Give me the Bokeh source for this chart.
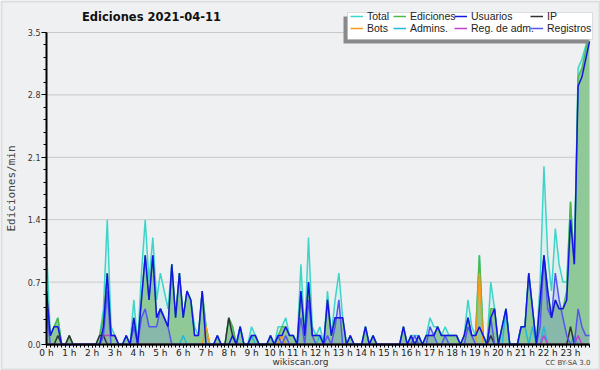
from bokeh.plotting import figure
from bokeh.models import (Range1d, FixedTicker, NumeralTickFormatter, Legend, LegendItem,
                          Label, BoxAnnotation, ColumnDataSource)
from bokeh.embed import file_html
from bokeh.resources import INLINE

# ---- data (10-minute steps, edits per minute) ----
hour_ticks = list(range(24))
hour_labels = {h: f"{h} h" for h in hour_ticks}
y_ticks = [0.0, 0.7, 1.4, 2.1, 2.8, 3.5]

total = [1.1,0.1,0.2,0.3,0,0,0.1,0,0,0,0,0,
         0,0,0.1,0.4,1.4,0.2,0.1,0,0,0.1,0,0.5,
         0,0.8,1.4,0.7,1.2,0.5,0.8,0.6,0.4,0.9,0.3,0.8,
         0.3,0.6,0.5,0.2,0.1,0.6,0.2,0,0,0.1,0,0,
         0.3,0.2,0,0.2,0,0,0.2,0.1,0,0,0,0.1,
         0,0.2,0.2,0.3,0.1,0.1,0,0.9,0.1,1.2,0.2,0.1,
         0.2,0,0.6,0.1,0.5,0.8,0.3,0,0.1,0,0,0,
         0.2,0,0.1,0,0,0,0,0,0,0,0.2,0,
         0.1,0.1,0.1,0,0.1,0.3,0.2,0.2,0.1,0.2,0.1,0.1,
         0.1,0,0.1,0.5,0.2,0.1,1.0,0.1,0,0.7,0.4,0,
         0.2,0.4,0,0,0,0.2,0.2,0.8,0.4,0,0.7,2.0,
         1.0,0.6,1.3,0.9,0.7,0.7,1.6,0.9,3.1,3.2,3.35,3.5]

ediciones = [0.6,0.1,0.2,0.3,0,0,0.1,0,0,0,0,0,
             0,0,0.1,0.3,0.8,0.1,0.1,0,0,0.1,0,0.3,
             0,0.5,1.0,0.5,1.0,0.3,0.4,0.3,0.2,0.9,0.3,0.8,
             0.3,0.6,0.5,0.1,0.1,0.6,0.2,0,0,0.1,0,0,
             0.3,0.2,0,0.2,0,0,0.1,0.1,0,0,0,0.1,
             0,0.1,0.2,0.2,0.1,0.1,0,0.6,0.1,0.7,0.1,0.1,
             0.1,0,0.5,0.1,0.3,0.3,0.3,0,0.1,0,0,0,
             0.2,0,0.1,0,0,0,0,0,0,0,0.2,0,
             0.1,0,0.1,0,0.1,0.1,0.1,0.2,0.1,0.1,0.1,0.1,
             0.1,0,0.1,0.3,0.1,0.1,1.0,0.1,0,0.4,0.4,0,
             0.2,0.4,0,0,0,0.2,0.2,0.8,0.4,0,0.5,1.0,
             0.6,0.3,0.5,0.4,0.4,0.6,1.6,0.9,3.0,3.1,3.3,3.5]

usuarios = [0.6,0.1,0.2,0.2,0,0,0,0,0,0,0,0,
            0,0,0,0.2,0.8,0.1,0.1,0,0,0.1,0,0.3,
            0,0.5,1.0,0.5,1.0,0.3,0.4,0.3,0.2,0.9,0.3,0.8,
            0.3,0.6,0.5,0.1,0.1,0.6,0,0,0,0.1,0,0,
            0,0.1,0,0.2,0,0,0.1,0.1,0,0,0,0.1,
            0,0.1,0.1,0.2,0.1,0.1,0,0.6,0.1,0.7,0.1,0.1,
            0.1,0,0.5,0.1,0.3,0.3,0.3,0,0.1,0,0,0,
            0.2,0,0.1,0,0,0,0,0,0,0,0.2,0,
            0.1,0,0.1,0,0.1,0.1,0.1,0.2,0.1,0.1,0.1,0.1,
            0.1,0,0.1,0.3,0.1,0.1,0.2,0.1,0,0.3,0.4,0,
            0.2,0.4,0,0,0,0.2,0.2,0.8,0.4,0,0.5,1.0,
            0.6,0.3,0.5,0.4,0.4,0.5,1.4,0.9,2.9,3.0,3.2,3.4]

ip = [0,0,0,0.1,0,0,0.1,0,0,0,0,0,
      0,0,0.1,0.1,0,0,0,0,0,0,0,0,
      0,0,0,0,0,0,0,0,0,0,0,0,
      0,0,0,0,0,0,0,0,0,0,0,0,
      0.3,0.1,0,0,0,0,0,0,0,0,0,0,
      0,0,0,0,0,0,0,0,0,0,0,0,
      0,0,0,0,0,0,0,0,0,0,0,0,
      0,0,0,0,0,0,0,0,0,0,0,0,
      0,0,0,0,0,0,0,0,0,0,0,0,
      0,0,0,0,0,0,0,0,0,0.1,0,0,
      0,0,0,0,0,0,0,0,0,0,0,0,
      0,0,0,0,0,0,0.2,0,0,0,0,0]

bots = [0,0,0,0,0,0,0,0,0,0,0,0,
        0,0,0,0,0,0,0,0,0,0,0,0,
        0,0,0,0,0,0,0,0,0,0,0,0,
        0,0,0,0,0,0,0.2,0,0,0,0,0,
        0,0,0,0,0,0,0,0,0,0,0,0,
        0,0,0.1,0,0,0,0,0,0,0,0,0,
        0,0,0,0,0,0,0,0,0,0,0,0,
        0,0,0,0,0,0,0,0,0,0,0,0,
        0,0,0,0,0,0,0,0,0,0,0,0,
        0,0,0,0,0,0,0.8,0,0,0,0,0,
        0,0,0,0,0,0,0,0,0,0,0,0,
        0,0,0,0,0,0,0,0,0,0,0,0]

admins = [0,0,0,0,0,0,0,0,0,0,0,0,
          0,0,0,0,0,0,0,0,0,0,0,0,
          0,0,0,0,0,0,0,0,0,0,0,0,
          0.1,0,0,0,0,0,0,0,0,0,0,0,
          0,0,0,0.2,0,0,0.1,0,0,0,0,0,
          0,0,0,0,0,0,0,0,0,0,0,0,
          0.1,0,0,0,0,0,0,0,0,0,0,0,
          0,0,0,0,0,0,0,0,0,0,0,0,
          0,0,0,0,0,0,0,0,0,0,0,0,
          0,0,0,0,0,0,0,0,0,0,0,0,
          0,0.4,0,0,0,0.2,0.2,0,0.2,0,0,0.2,
          0,0,0,0,0,0,0,0.1,0,0,0,0]

reg_adm = [0,0,0,0,0,0,0,0,0,0,0,0,
           0,0,0,0.1,0.1,0.1,0.1,0,0,0,0,0,
           0,0,0,0,0,0,0,0,0,0,0,0,
           0,0,0,0,0,0,0,0,0,0,0,0,
           0,0,0,0,0,0,0,0,0,0,0,0,
           0,0,0,0,0,0,0,0,0,0,0,0,
           0,0,0,0,0,0,0,0,0,0,0,0,
           0,0,0,0,0,0,0,0,0,0,0,0,
           0,0,0,0,0,0,0,0,0,0,0,0,
           0,0,0,0,0,0,0,0,0,0,0,0,
           0,0,0,0,0,0,0,0,0,0,0,0.1,
           0,0,0,0,0,0,0,0,0.1,0,0,0]

registros = [0.4,0,0,0,0,0,0,0,0,0,0,0,
             0,0,0,0.1,0.6,0,0,0,0,0,0,0.2,
             0,0.3,0.4,0.2,0.2,0.2,0.4,0.3,0.2,0,0,0,
             0,0,0,0,0,0,0,0,0,0,0,0,
             0,0,0,0,0,0,0,0,0,0,0,0,
             0,0.1,0,0.1,0,0,0,0.3,0,0.5,0.1,0,
             0,0,0.1,0,0.2,0.5,0,0,0,0,0,0,
             0,0,0,0,0,0,0,0,0,0,0,0,
             0,0.1,0,0,0,0.2,0.1,0,0,0.1,0,0,
             0,0,0,0.2,0.1,0,0,0,0,0.3,0,0,
             0,0,0,0,0,0,0,0,0,0,0.2,1.0,
             0.4,0.3,0.8,0.5,0.3,0.1,0,0,0.4,0.2,0.1,0.1]

hours = [i / 6 for i in range(len(total))]

src = ColumnDataSource(dict(x=hours, total=total, ediciones=ediciones, usuarios=usuarios,
                            ip=ip, bots=bots, admins=admins, reg_adm=reg_adm,
                            registros=registros, zero=[0] * len(total)))

FONT = "DejaVu Sans"
LFONT = "Liberation Sans"
W, H = 600, 370
X0, X1 = 46, 589          # screen x of hour 0 and of the last sample
Y0, Y1 = 344, 32          # screen y of 0.0 and 3.5
PXH = (X1 - X0) / hours[-1]
PXV = (Y0 - Y1) / 3.5

p = figure(width=W, height=H, output_backend="svg", toolbar_location=None,
           x_range=Range1d(-X0 / PXH, hours[-1] + (W - X1) / PXH),
           y_range=Range1d(-(H - Y0) / PXV, 3.5 + Y1 / PXV),
           min_border_left=0, min_border_right=0, min_border_top=0, min_border_bottom=0)
p.background_fill_color = "#eff0f1"
p.border_fill_color = "#eff0f1"
p.outline_line_color = None
p.xgrid.visible = False
p.ygrid.visible = False


def top_y(page_y):
    return H - page_y


# outer frame of the picture
p.add_layout(BoxAnnotation(left=1, right=W - 1, bottom=1, top=H - 1,
                           left_units="screen", right_units="screen",
                           bottom_units="screen", top_units="screen",
                           fill_alpha=0, line_color="#b4b4b4", line_width=2, level="underlay"))

# horizontal grid lines, only across the plot area
grid = p.segment(x0=[0] * 5, x1=[hours[-1]] * 5, y0=y_ticks[1:], y1=y_ticks[1:],
                 line_color="#c8c8c8", line_width=1)
grid.level = "underlay"

# fills
p.varea(x="x", y1="zero", y2="total", source=src, fill_color="#c8eee6", fill_alpha=0.45)
p.varea(x="x", y1="zero", y2="ediciones", source=src, fill_color="#8ec997", fill_alpha=1.0)
p.varea(x="x", y1="zero", y2="registros", source=src, fill_color="#7070ff", fill_alpha=0.18)

# lines
r_total = p.line("x", "total", source=src, line_color="#3dd5c9", line_width=1.5)
r_edic = p.line("x", "ediciones", source=src, line_color="#4cb84c", line_width=1.5)
r_adm = p.line("x", "admins", source=src, line_color="#22b8e0", line_width=1.5)
r_bots = p.line("x", "bots", source=src, line_color="#f59a1a", line_width=1.5)
r_radm = p.line("x", "reg_adm", source=src, line_color="#c040d0", line_width=1.5)
r_ip = p.line("x", "ip", source=src, line_color="#333333", line_width=1.5)
r_reg = p.line("x", "registros", source=src, line_color="#5555f0", line_width=1.5)
r_usu = p.line("x", "usuarios", source=src, line_color="#1414e6", line_width=1.5)

# axes (drawn inside the frame at x=0 / y=0)
xa = p.xaxis[0]
xa.fixed_location = 0
xa.bounds = (0, hours[-1])
xa.ticker = FixedTicker(ticks=hour_ticks, minor_ticks=hours)
xa.major_label_overrides = hour_labels
xa.major_tick_out = 3
xa.major_tick_in = 0
xa.minor_tick_out = 3
xa.minor_tick_in = 0
xa.axis_line_width = 2
xa.major_label_text_font = FONT
xa.major_label_text_font_size = "9px"
xa.major_label_text_color = "#222"
xa.major_label_standoff = 0

ya = p.yaxis[0]
ya.fixed_location = 0
ya.bounds = (0, 3.5)
ya.ticker = FixedTicker(ticks=y_ticks, minor_ticks=[i * 0.14 for i in range(26)])
ya.formatter = NumeralTickFormatter(format="0.0")
ya.major_tick_out = 5
ya.major_tick_in = 0
ya.minor_tick_out = 3
ya.minor_tick_in = 0
ya.axis_line_width = 2
ya.major_label_text_font = FONT
ya.major_label_text_font_size = "8px"
ya.major_label_text_color = "#333"
ya.major_label_standoff = 1
ya.axis_label = "Ediciones/min"
ya.axis_label_text_font = "DejaVu Sans Mono"
ya.axis_label_text_font_size = "11px"
ya.axis_label_text_font_style = "normal"
ya.axis_label_standoff = 7

# legend box and shadow
p.add_layout(BoxAnnotation(left=343, right=588, bottom=top_y(43), top=top_y(16),
                           left_units="screen", right_units="screen",
                           bottom_units="screen", top_units="screen",
                           fill_color="#8a8a8a", fill_alpha=1.0, line_color=None))
p.add_layout(BoxAnnotation(left=347, right=592, bottom=top_y(39), top=top_y(12),
                           left_units="screen", right_units="screen",
                           bottom_units="screen", top_units="screen",
                           fill_color="white", fill_alpha=1.0, line_color="#a0a0a0",
                           line_width=1))

columns = [
    (350, [("Total", r_total), ("Bots", r_bots)]),
    (393, [("Ediciones", r_edic), ("Admins.", r_adm)]),
    (454, [("Usuarios", r_usu), ("Reg. de adm.", r_radm)]),
    (530, [("IP", r_ip), ("Registros", r_reg)]),
]
for cx, entries in columns:
    lg = Legend(items=[LegendItem(label=t, renderers=[r]) for t, r in entries],
                orientation="vertical", location=(cx, top_y(34)))
    lg.label_text_font = LFONT
    lg.label_text_font_size = "10.5px"
    lg.label_text_color = "#222"
    lg.label_height = 10
    lg.glyph_height = 10
    lg.glyph_width = 13
    lg.label_standoff = 4
    lg.spacing = 0
    lg.padding = 0
    lg.margin = 0
    lg.border_line_color = None
    lg.background_fill_alpha = 0
    p.add_layout(lg, "center")

# title and footer texts
p.add_layout(Label(x=153, y=top_y(16), x_units="screen", y_units="screen",
                   text="Ediciones  2021-04-11",
                   text_font=FONT, text_font_size="11.5px", text_font_style="bold",
                   text_align="center", text_baseline="middle", text_color="#111"))
p.add_layout(Label(x=300, y=top_y(361), x_units="screen", y_units="screen", text="wikiscan.org",
                   text_font=FONT, text_font_size="9px", text_align="center",
                   text_baseline="middle", text_color="#333"))
p.add_layout(Label(x=590, y=top_y(362), x_units="screen", y_units="screen", text="CC BY-SA 3.0",
                   text_font=FONT, text_font_size="7px", text_align="right",
                   text_baseline="middle", text_color="#444"))

open("out.html", "w").write(file_html(p, INLINE))
